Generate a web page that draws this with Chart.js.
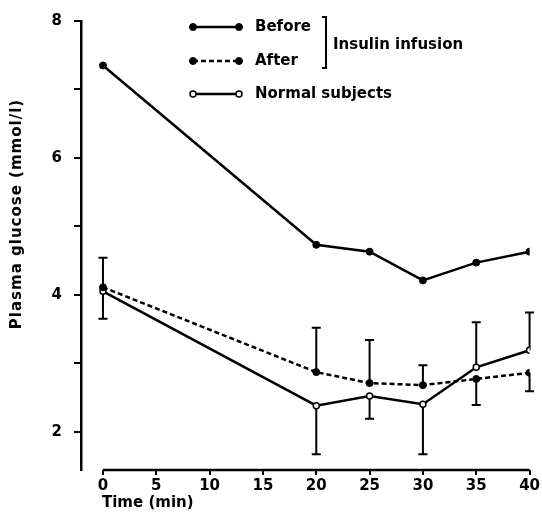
<!DOCTYPE html>
<html>
<head>
<meta charset="utf-8">
<script src="https://cdn.jsdelivr.net/npm/chart.js@4.4.1/dist/chart.umd.min.js"></script>
<style>
  body { margin: 0; background: #fff; }
  #wrap { width: 542px; height: 513px; position: relative; }
</style>
</head>
<body>
<div id="wrap"><canvas id="glucoseChart"></canvas></div>
<script>
// values
var times = [0, 20, 25, 30, 35, 40];
var before = [7.35, 4.73, 4.63, 4.21, 4.47, 4.63];
var after = [4.11, 2.87, 2.71, 2.68, 2.77, 2.86];
var afterSem = [0.43, 0.65, 0.63, 0.29, 0.38, 0.27];
var normal = [4.05, 2.38, 2.52, 2.40, 2.94, 3.19];
var normalSem = [0.40, 0.71, 0.33, 0.73, 0.66, 0.55];
var yTickLabels = [2, 4, 6, 8];
var groupLabel = 'Insulin infusion';

var FONT = 'DejaVu Sans';

function points(vals) {
  return times.map(function (t, i) { return { x: t, y: vals[i] }; });
}

// error bars point away from the other curve
var errorBars = {
  id: 'errorBars',
  beforeDatasetsDraw: function (chart) {
    var ctx = chart.ctx, y = chart.scales.y, x = chart.scales.x;
    var sets = [
      { vals: after, sem: afterSem, other: normal },
      { vals: normal, sem: normalSem, other: after }
    ];
    ctx.save();
    ctx.strokeStyle = '#000';
    ctx.lineWidth = 2;
    sets.forEach(function (s) {
      times.forEach(function (t, i) {
        var dir = s.vals[i] >= s.other[i] ? 1 : -1;
        var px = x.getPixelForValue(t);
        var y0 = y.getPixelForValue(s.vals[i]);
        var y1 = y.getPixelForValue(s.vals[i] + dir * s.sem[i]);
        ctx.beginPath();
        ctx.moveTo(px, y0); ctx.lineTo(px, y1);
        ctx.moveTo(px - 4.5, y1); ctx.lineTo(px + 4.5, y1);
        ctx.stroke();
      });
    });
    ctx.restore();
  }
};

var decorations = {
  id: 'decorations',
  afterDraw: function (chart) {
    var ctx = chart.ctx, x = chart.scales.x, area = chart.chartArea;
    ctx.save();
    // x axis line from 0 to 40 only
    ctx.strokeStyle = '#000';
    ctx.lineWidth = 2.5;
    ctx.beginPath();
    ctx.moveTo(x.getPixelForValue(times[0]), area.bottom);
    ctx.lineTo(x.getPixelForValue(times[times.length - 1]), area.bottom);
    ctx.stroke();

    ctx.fillStyle = '#000';
    ctx.font = 'bold 15px "' + FONT + '"';
    ctx.textBaseline = 'middle';
    ctx.textAlign = 'left';
    ctx.fillText('Time (min)', 102, 503);

    ctx.save();
    ctx.translate(17, 214);
    ctx.rotate(-Math.PI / 2);
    ctx.textAlign = 'center';
    ctx.letterSpacing = '1px';
    ctx.fillText('Plasma glucose (mmol/l)', 0, 0);
    ctx.restore();

    // legend
    var rowsY = [27, 61, 94];
    chart.data.datasets.forEach(function (ds, i) {
      var ly = rowsY[i];
      ctx.save();
      ctx.strokeStyle = '#000';
      ctx.lineWidth = 2.5;
      ctx.setLineDash(ds.borderDash || []);
      ctx.beginPath();
      ctx.moveTo(193, ly); ctx.lineTo(239, ly);
      ctx.stroke();
      ctx.setLineDash([]);
      [193, 239].forEach(function (mx) {
        ctx.beginPath();
        ctx.arc(mx, ly, ds.pointRadius, 0, Math.PI * 2);
        ctx.fillStyle = ds.pointBackgroundColor;
        ctx.fill();
        ctx.lineWidth = ds.pointBorderWidth;
        ctx.stroke();
      });
      ctx.restore();
      ctx.fillText(ds.label, 255, ly);
    });
    // bracket
    ctx.lineWidth = 2;
    ctx.beginPath();
    ctx.moveTo(322, 17); ctx.lineTo(326, 17); ctx.lineTo(326, 68); ctx.lineTo(322, 68);
    ctx.stroke();
    ctx.fillText(groupLabel, 333, 45);
    ctx.restore();
  }
};

var tickFont = { family: FONT, weight: 'bold', size: 15 };

new Chart(document.getElementById('glucoseChart').getContext('2d'), {
  type: 'line',
  data: {
    datasets: [
      {
        label: 'Before',
        data: points(before),
        borderColor: '#000', borderWidth: 2.5,
        pointRadius: 3.5, pointBackgroundColor: '#000', pointBorderColor: '#000', pointBorderWidth: 1
      },
      {
        label: 'After',
        data: points(after),
        borderColor: '#000', borderWidth: 2.5, borderDash: [5, 3],
        pointRadius: 3.5, pointBackgroundColor: '#000', pointBorderColor: '#000', pointBorderWidth: 1
      },
      {
        label: 'Normal subjects',
        data: points(normal),
        borderColor: '#000', borderWidth: 2.5,
        pointRadius: 3, pointBackgroundColor: '#fff', pointBorderColor: '#000', pointBorderWidth: 1.5
      }
    ]
  },
  options: {
    responsive: true,
    maintainAspectRatio: false,
    animation: false,
    layout: { padding: { top: 16, right: 12, left: 0, bottom: 0 } },
    plugins: { legend: { display: false }, tooltip: { enabled: false } },
    scales: {
      x: {
        type: 'linear', min: -2.06, max: 40,
        border: { display: false },
        grid: { display: true, drawOnChartArea: false, tickLength: 5, color: '#000', lineWidth: 2 },
        ticks: { stepSize: 5, includeBounds: false, autoSkip: false, maxRotation: 0, padding: 2, color: '#000', font: tickFont },
        afterFit: function (s) { s.height = 43; }
      },
      y: {
        min: 1.44, max: 8,
        border: { display: true, color: '#000', width: 2.5 },
        grid: { display: true, drawOnChartArea: false, tickLength: 7, color: '#000', lineWidth: 2 },
        ticks: {
          stepSize: 1, includeBounds: false, autoSkip: false, padding: 12, color: '#000', font: tickFont,
          callback: function (v) { return yTickLabels.indexOf(v) >= 0 ? String(v) : ''; }
        },
        afterFit: function (s) { s.width = 81; }
      }
    }
  },
  plugins: [errorBars, decorations]
});
</script>
</body>
</html>
